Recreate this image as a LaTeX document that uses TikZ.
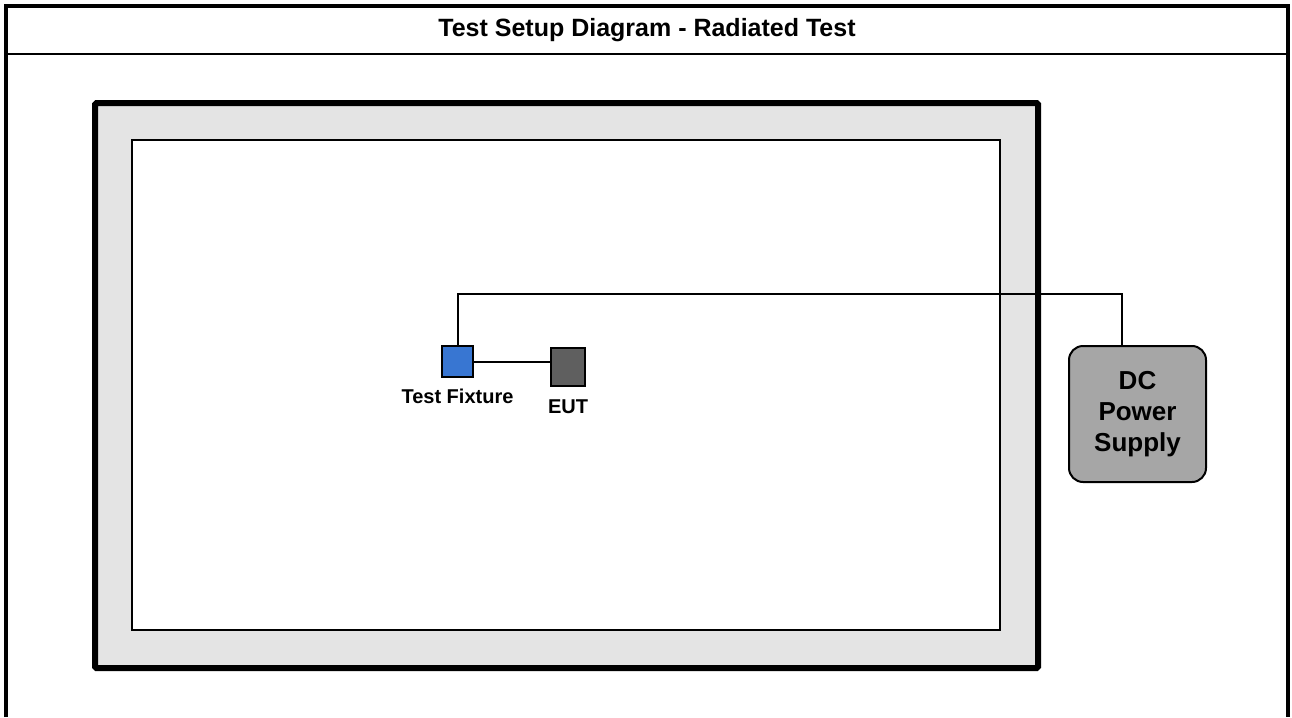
\documentclass[tikz,border=0pt]{standalone}
\usepackage{fontspec}
\setmainfont{Liberation Sans}
\usepackage{xcolor}
\usepackage{tikz}
\usetikzlibrary{positioning, calc}
\definecolor{chambergrey}{RGB}{228, 228, 228}
\definecolor{fixtureblue}{RGB}{56, 118, 210}
\definecolor{eutgrey}{RGB}{95, 95, 95}
\definecolor{supplygrey}{RGB}{166, 166, 166}

\begin{document}
\begin{tikzpicture}[x=1pt, y=-1pt,
    box/.style={draw, line width=2pt, inner sep=0pt},
    lbl/.style={font=\fontsize{20}{24}\selectfont\bfseries, inner sep=0pt},
    wire/.style={line width=2pt}]
    \useasboundingbox (0,0) rectangle (1292,717);

    % Frame and title
    \draw[line width=4pt] (6,717) -- (6,6) -- (1288,6) -- (1288,717);
    \draw[line width=2.5pt] (6,54) -- (1288,54);
    \node[font=\fontsize{25}{30}\selectfont\bfseries] (title) at (647,30) {Test Setup Diagram - Radiated Test};

    % Chamber walls and test volume
    \draw[line width=6pt, fill=chambergrey, rounded corners=1.5pt] (95,103) rectangle (1038,668);
    \draw[line width=2pt, fill=white] (132,140) rectangle (1000,630);

    % Equipment
    \node[box, fill=fixtureblue, minimum width=31pt, minimum height=31pt] (fixture) at (457.5,361.5) {};
    \node[box, fill=eutgrey, minimum width=34pt, minimum height=38pt] (eut) at (568,367) {};
    \node[box, fill=supplygrey, rounded corners=14pt, minimum width=137pt, minimum height=136pt,
          align=center, font=\fontsize{26}{31}\selectfont\bfseries] (psu) at (1137.5,414) {DC\\Power\\Supply};

    % Labels
    \node[lbl, below=11pt of fixture] (fixlbl) {Test Fixture};
    \node[lbl, below=12.5pt of eut] (eutlbl) {EUT};

    % Cabling
    \coordinate (cable) at (1122,294);
    \draw[wire] (fixture.east) -- (fixture.east -| eut.west);
    \draw[wire] (fixture.north) |- (cable) -- (cable |- psu.north);
\end{tikzpicture}
\end{document}
